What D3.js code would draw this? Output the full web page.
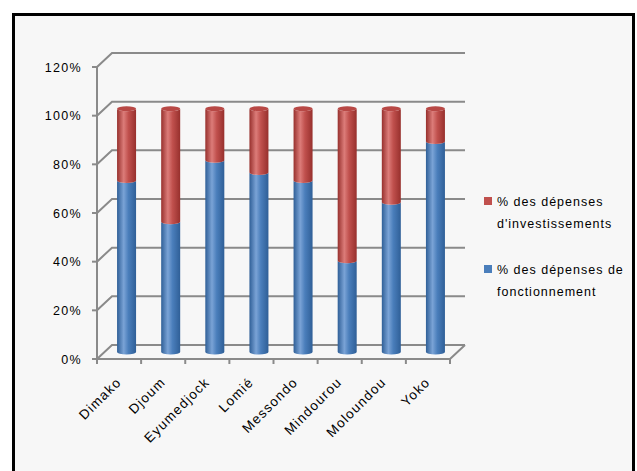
<!DOCTYPE html>
<html>
<head>
<meta charset="utf-8">
<script src="https://cdn.jsdelivr.net/npm/d3@7"></script>
<style>
  html, body { margin: 0; padding: 0; background: #ffffff; }
  svg { display: block; }
  text { font-family: "Liberation Sans", Arial, sans-serif; fill: #000; }
</style>
</head>
<body>
<svg id="chart" width="637" height="471"></svg>
<script>
// Communes and the share of each type of expenditure (percent)
const communes = ["Dimako", "Djoum", "Eyumedjock", "Lomié", "Messondo", "Mindourou", "Moloundou", "Yoko"];
const fonctionnement = [70.5, 53.5, 78.8, 73.8, 70.5, 37.5, 61.5, 86.5];
const investissement = fonctionnement.map(v => 100 - v);
const yTicks = [0, 20, 40, 60, 80, 100, 120];
const seriesColors = { base: ["#4a7ebb", "#c0504d"], dark: ["#2f5f97", "#97302d"], light: ["#7aa3d6", "#dc7c79"] };

const svg = d3.select("#chart");

// Outer frame
svg.append("rect")
  .attr("x", 13.5).attr("y", 14.5)
  .attr("width", 620).attr("height", 470)
  .attr("fill", "#f7f7f7")
  .attr("stroke", "#000").attr("stroke-width", 3);

// 3-D projection: front plane plus depth offset
const depth = { dx: 15, dy: -14 };
const x = d3.scaleBand().domain(communes).range([97, 450]);
const y = d3.scaleLinear().domain([0, 120]).range([359, 67]);

// Gradients for cylinder shading
const defs = svg.append("defs");
[0, 1].forEach(i => {
  const g = defs.append("linearGradient").attr("id", "cyl" + i)
    .attr("x1", "0%").attr("x2", "100%").attr("y1", "0%").attr("y2", "0%");
  g.append("stop").attr("offset", "0%").attr("stop-color", seriesColors.dark[i]);
  g.append("stop").attr("offset", "35%").attr("stop-color", seriesColors.light[i]);
  g.append("stop").attr("offset", "60%").attr("stop-color", seriesColors.base[i]);
  g.append("stop").attr("offset", "100%").attr("stop-color", seriesColors.dark[i]);
});

const grid = svg.append("g").attr("fill", "none").attr("stroke", "#8a8a8a").attr("stroke-width", 2);

// Back-wall gridlines with their diagonal connectors to the value axis
yTicks.forEach(t => {
  const yy = y(t);
  grid.append("path")
    .attr("d", `M${x.range()[0]},${yy} L${x.range()[0] + depth.dx},${yy + depth.dy} L${x.range()[1] + depth.dx},${yy + depth.dy}`);
});

// Floor outline
const x0 = x.range()[0], x1 = x.range()[1], yb = y(0);
grid.append("path")
  .attr("d", `M${x0},${yb} L${x1},${yb} L${x1 + depth.dx},${yb + depth.dy}`);

// Value axis
grid.append("line").attr("x1", x0).attr("x2", x0).attr("y1", y(120)).attr("y2", yb + 4);
yTicks.forEach(t => {
  grid.append("line").attr("x1", x0 - 5).attr("x2", x0).attr("y1", y(t)).attr("y2", y(t));
});

// Category ticks at band boundaries
communes.concat([null]).forEach(c => {
  const xx = c === null ? x1 : x(c);
  grid.append("line").attr("x1", xx).attr("x2", xx).attr("y1", yb).attr("y2", yb + 5);
});

// Value axis labels
svg.append("g").selectAll("text").data(yTicks).join("text")
  .attr("x", 82).attr("y", d => y(d) + 4.5)
  .attr("text-anchor", "end")
  .style("font-size", "12.5px").style("letter-spacing", "1.3px")
  .text(d => d + "%");

// Category labels, rotated
svg.append("g").selectAll("text").data(communes).join("text")
  .attr("transform", d => `translate(${x(d) + x.bandwidth() / 2 + 3},${yb + 24}) rotate(-45)`)
  .attr("text-anchor", "end")
  .style("font-size", "13.5px").style("letter-spacing", "1.2px")
  .text(d => d);

// Stacked cylinders, placed halfway into the depth
const barW = 19, ry = 2.5;
const stacks = communes.map((c, i) => {
  const cx = x(c) + x.bandwidth() / 2 + depth.dx / 2;
  const off = depth.dy / 2;
  return [
    { cx, off, s: 0, lo: 0, hi: fonctionnement[i] },
    { cx, off, s: 1, lo: fonctionnement[i], hi: fonctionnement[i] + investissement[i] }
  ];
}).flat();

const bars = svg.append("g");
bars.selectAll("path.body").data(stacks).join("path")
  .attr("class", "body")
  .attr("fill", d => `url(#cyl${d.s})`)
  .attr("d", d => {
    const l = d.cx - barW / 2, r = d.cx + barW / 2;
    const yt = y(d.hi) + d.off, ybt = y(d.lo) + d.off;
    return `M${l},${yt} L${l},${ybt} A${barW / 2},${ry} 0 0 0 ${r},${ybt} L${r},${yt} A${barW / 2},${ry} 0 0 1 ${l},${yt} Z`;
  });

// Top caps of the upper segments
bars.selectAll("ellipse.cap").data(stacks.filter(d => d.s === 1)).join("ellipse")
  .attr("class", "cap")
  .attr("cx", d => d.cx).attr("cy", d => y(d.hi) + d.off)
  .attr("rx", barW / 2).attr("ry", ry)
  .attr("fill", "#b84845");

// Legend
const legend = svg.append("g").style("font-size", "12.5px").style("letter-spacing", "1px");
const legendItems = [
  { color: seriesColors.base[1], lines: ["% des dépenses", "d'investissements"], y: 197 },
  { color: seriesColors.base[0], lines: ["% des dépenses de", "fonctionnement"], y: 265 }
];
legendItems.forEach(it => {
  legend.append("rect").attr("x", 484).attr("y", it.y).attr("width", 8).attr("height", 8).attr("fill", it.color);
  it.lines.forEach((ln, j) => {
    legend.append("text").attr("x", 497).attr("y", it.y + 9 + j * 22).text(ln);
  });
});
</script>
</body>
</html>
